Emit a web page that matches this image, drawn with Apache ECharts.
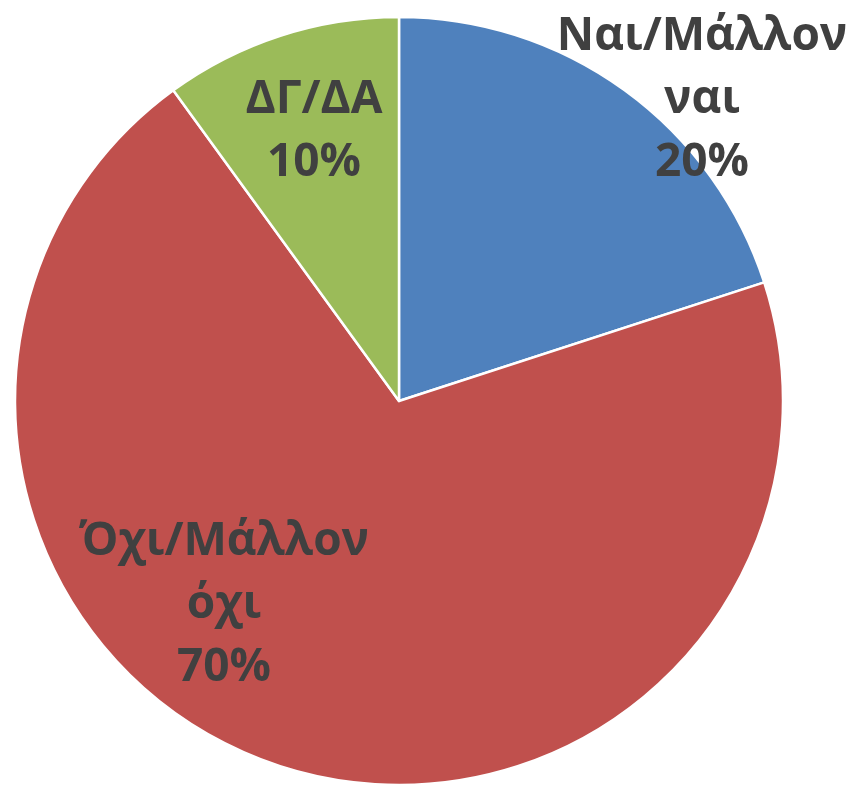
<!DOCTYPE html>
<html>
<head>
<meta charset="utf-8">
<script src="https://cdn.jsdelivr.net/npm/echarts@6/dist/echarts.min.js"></script>
<style>html,body{margin:0;padding:0;background:#fff}#c{width:852px;height:785px}</style>
</head>
<body>
<div id="c"></div>
<script>
var categories = ['Ναι/Μάλλον ναι', 'Όχι/Μάλλον όχι', 'ΔΓ/ΔΑ'];
var labelTexts = ['Ναι/Μάλλον\nναι', 'Όχι/Μάλλον\nόχι', 'ΔΓ/ΔΑ'];
var values = [20, 70, 10];
var colors = ['#4F81BD', '#C0504D', '#9BBB59'];

var cx = 399, cy = 401, R = 384;
// label offsets from pie centre (layout only)
var labelOffsets = [[303, -301], [-175, 204], [-85, -270]];

var chart = echarts.init(document.getElementById('c'), null, {renderer: 'canvas'});
chart.setOption({
  animation: false,
  series: [{
    type: 'pie',
    center: [cx, cy],
    radius: [0, R],
    startAngle: 90,
    clockwise: true,
    data: categories.map(function (n, i) {
      return { name: n, value: values[i], itemStyle: { color: colors[i] } };
    }),
    itemStyle: { borderColor: '#ffffff', borderWidth: 2.5 },
    label: {
      show: true,
      position: 'inside',
      formatter: function (p) { return labelTexts[p.dataIndex] + '\n' + Math.round(p.percent) + '%'; },
      fontFamily: 'Open Sans',
      fontWeight: 'bold',
      fontSize: 46,
      lineHeight: 63,
      color: '#404040',
      align: 'center',
      verticalAlign: 'middle'
    },
    labelLine: { show: false },
    labelLayout: function (p) {
      var o = labelOffsets[p.dataIndex];
      return { x: cx + o[0], y: cy + o[1], align: 'center', verticalAlign: 'middle' };
    },
    emphasis: { disabled: true }
  }]
});
</script>
</body>
</html>
